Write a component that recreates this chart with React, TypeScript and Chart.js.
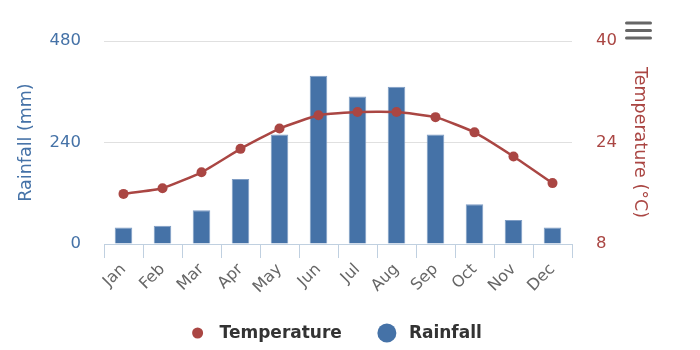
import React, { useEffect, useRef } from "react";
import { Chart, registerables } from "chart.js";

Chart.register(...registerables);

const months = ["Jan", "Feb", "Mar", "Apr", "May", "Jun", "Jul", "Aug", "Sep", "Oct", "Nov", "Dec"];
const rainfall = [39, 43, 80, 154, 259, 398, 349, 372, 259, 94, 57, 39];
const temperature = [15.9, 16.8, 19.3, 23.0, 26.2, 28.3, 28.8, 28.8, 28.0, 25.6, 21.8, 17.6];
const rainfallTicks = [0, 240, 480];
const temperatureTicks = [8, 24, 40];

const FONT = "'DejaVu Sans', sans-serif";
const BLUE = "#4572A7";
const RED = "#AA4643";

const menuPlugin = {
  id: "menuIcon",
  afterDraw(chart: any) {
    const ctx = chart.ctx;
    const x0 = chart.width - 75;
    ctx.save();
    ctx.strokeStyle = "#666666";
    ctx.lineWidth = 3;
    ctx.lineCap = "round";
    [23, 30.5, 38].forEach((y) => {
      ctx.beginPath();
      ctx.moveTo(x0 + 1.5, y);
      ctx.lineTo(x0 + 25.5, y);
      ctx.stroke();
    });
    ctx.restore();
  },
};

const legendPlugin = {
  id: "customLegend",
  afterDraw(chart: any) {
    const ctx = chart.ctx;
    const items = chart.data.datasets.map((ds: any) => ({
      text: ds.label,
      color: ds.legendColor,
      r: ds.legendRadius,
    }));
    ctx.save();
    ctx.font = "bold 17px " + FONT;
    const textOffset = 22;
    const gap = 45;
    const widths = items.map((it: any) => ctx.measureText(it.text).width);
    let total = items[0].r;
    items.forEach((it: any, i: number) => {
      total += textOffset + widths[i];
      if (i < items.length - 1) total += gap;
    });
    const centerX = 337;
    const y = 333;
    let cx = centerX - total / 2 + items[0].r;
    items.forEach((it: any, i: number) => {
      ctx.fillStyle = it.color;
      ctx.beginPath();
      ctx.arc(cx, y, it.r, 0, Math.PI * 2);
      ctx.fill();
      ctx.fillStyle = "#333333";
      ctx.textBaseline = "middle";
      ctx.textAlign = "left";
      ctx.fillText(it.text, cx + textOffset, y + 1);
      cx += textOffset + widths[i] + gap;
    });
    ctx.restore();
  },
};

function App() {
  const canvasRef = useRef<HTMLCanvasElement>(null);

  useEffect(() => {
    if (!canvasRef.current) return;
    const chart = new Chart(canvasRef.current, {
      type: "bar",
      data: {
        labels: months,
        datasets: [
          {
            type: "line",
            label: "Temperature",
            data: temperature,
            yAxisID: "y1",
            borderColor: RED,
            backgroundColor: RED,
            borderWidth: 2.5,
            pointRadius: 5,
            pointHoverRadius: 5,
            pointBackgroundColor: RED,
            pointBorderWidth: 0,
            tension: 0.15,
            order: 0,
            legendColor: RED,
            legendRadius: 5.5,
          } as any,
          {
            type: "bar",
            label: "Rainfall",
            data: rainfall,
            yAxisID: "y",
            backgroundColor: BLUE,
            borderColor: "#7F9DC4",
            borderWidth: 1,
            barPercentage: 0.45,
            categoryPercentage: 1,
            order: 1,
            legendColor: BLUE,
            legendRadius: 9.5,
          } as any,
        ],
      },
      options: {
        animation: false,
        responsive: true,
        maintainAspectRatio: false,
        layout: { padding: { left: 12, right: 46, top: 41, bottom: 51 } },
        plugins: {
          legend: { display: false },
          tooltip: { enabled: false },
        },
        scales: {
          x: {
            offset: true,
            grid: {
              offset: true,
              drawOnChartArea: false,
              drawTicks: true,
              tickLength: 14,
              color: "#C0D0E0",
            },
            border: { display: true, color: "#C0D0E0", width: 1 },
            ticks: {
              color: "#666666",
              font: { family: FONT, size: 16 },
              maxRotation: 45,
              minRotation: 45,
              padding: 2,
              autoSkip: false,
            },
          },
          y: {
            position: "left",
            min: rainfallTicks[0],
            max: rainfallTicks[rainfallTicks.length - 1],
            afterBuildTicks: (axis: any) => {
              axis.ticks = rainfallTicks.map((v) => ({ value: v }));
            },
            afterFit: (axis: any) => {
              axis.width = 92;
            },
            grid: { color: "#E0E0E0", drawTicks: false },
            border: { display: false },
            ticks: {
              color: BLUE,
              font: { family: FONT, size: 16.5 },
              padding: 23,
            },
            title: {
              display: true,
              text: "Rainfall (mm)",
              color: BLUE,
              font: { family: FONT, size: 17.5 },
              padding: { top: 3.5, bottom: 0 },
            },
          },
          y1: {
            position: "right",
            min: temperatureTicks[0],
            max: temperatureTicks[temperatureTicks.length - 1],
            afterBuildTicks: (axis: any) => {
              axis.ticks = temperatureTicks.map((v) => ({ value: v }));
            },
            afterFit: (axis: any) => {
              axis.width = 82;
            },
            grid: { drawOnChartArea: false, drawTicks: false },
            border: { display: false },
            ticks: {
              color: RED,
              font: { family: FONT, size: 16.5 },
              padding: 24,
            },
            title: {
              display: true,
              text: "Temperature (°C)",
              color: RED,
              font: { family: FONT, size: 17.5 },
              padding: { top: 3.5, bottom: 0 },
            },
          },
        },
      },
      plugins: [menuPlugin, legendPlugin],
    });
    return () => chart.destroy();
  }, []);

  return (
    <div style={{ position: "fixed", left: 0, top: 0, width: 700, height: 350, background: "#ffffff" }}>
      <canvas ref={canvasRef} />
    </div>
  );
}

export default App;
